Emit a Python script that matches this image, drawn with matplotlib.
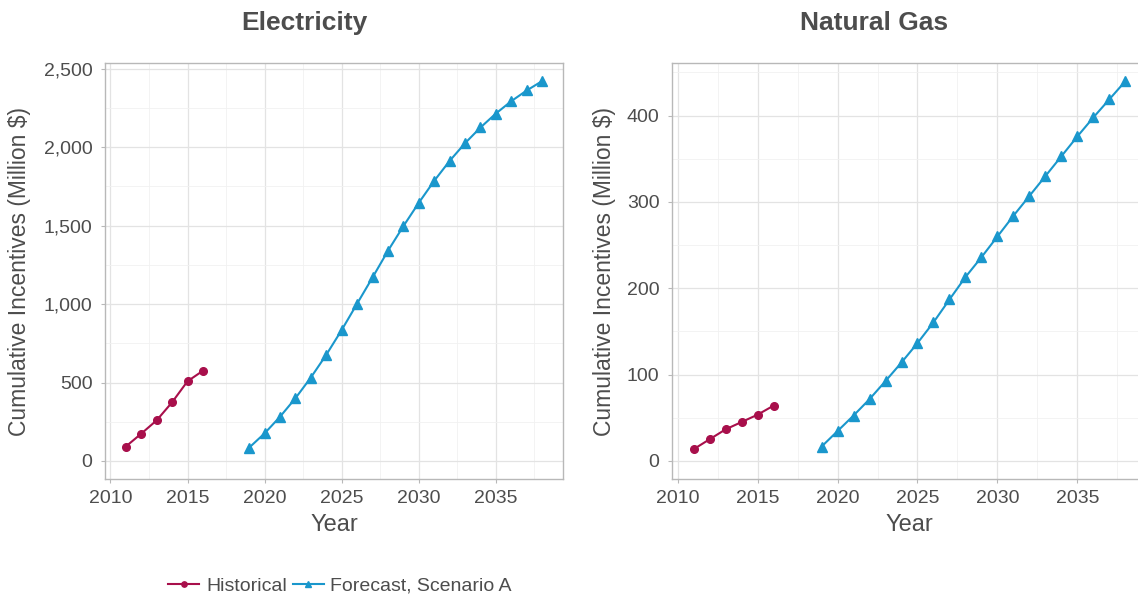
import matplotlib.pyplot as plt
from matplotlib.ticker import FuncFormatter, MultipleLocator

plt.rcParams['font.family'] = ['Liberation Sans', 'DejaVu Sans']

# ---------------------------------------------------------------------------
# Datos
# ---------------------------------------------------------------------------
years_hist = [2011, 2012, 2013, 2014, 2015, 2016]
years_fc = list(range(2019, 2039))

elec_hist = [92, 174, 259, 374, 508, 575]
elec_fc = [85, 176, 282, 400, 532, 677, 835, 1003, 1170, 1340, 1497, 1646,
           1786, 1913, 2026, 2126, 2215, 2294, 2362, 2422]

gas_hist = [13.5, 25, 36.5, 45, 53.5, 64]
gas_fc = [16.5, 34.5, 52.5, 71.5, 92.5, 114, 136.5, 160.5, 187, 213, 236, 260,
          284, 307, 330, 353, 376, 398, 419, 440]

panel_titles = ['Electricity', 'Natural Gas']
series_labels = ['Historical', 'Forecast, Scenario A']

RED = '#a80f4b'
BLUE = '#1a97cc'
GRID = '#e3e3e3'
GRID_MINOR = '#f1f1f1'
TEXT = '#4d4d4d'

fig = plt.figure(figsize=(11.38, 5.97), dpi=100)
W, H = 1138, 597

def px_axes(x0, y0, x1, y1):
    return fig.add_axes([x0 / W, 1 - y1 / H, (x1 - x0) / W, (y1 - y0) / H])

ax1 = px_axes(105, 63, 563, 479)
ax2 = px_axes(672, 63, 1147, 479)

# (eje, historico, pronostico, ylim, paso mayor, paso menor, x etiqueta y en px)
panels = [
    (ax1, elec_hist, elec_fc, (-115, 2537), 500, 250, 20),
    (ax2, gas_hist, gas_fc, (-21, 461), 100, 50, 605),
]

handles = []
for ax, hist, fc, ylim, major, minor, ylab_x in panels:
    h1, = ax.plot(years_hist, hist, color=RED, lw=1.5, marker='o', ms=5.5,
                  label=series_labels[0])
    h2, = ax.plot(years_fc, fc, color=BLUE, lw=1.5, marker='^', ms=6.5,
                  label=series_labels[1])
    handles = [h1, h2]
    ax.set_xlim(2009.65, 2039.35)
    ax.set_ylim(*ylim)
    ax.xaxis.set_major_locator(MultipleLocator(5))
    ax.xaxis.set_minor_locator(MultipleLocator(2.5))
    ax.yaxis.set_major_locator(MultipleLocator(major))
    ax.yaxis.set_minor_locator(MultipleLocator(minor))
    ax.grid(which='major', color=GRID, lw=0.9)
    ax.grid(which='minor', color=GRID_MINOR, lw=0.6)
    ax.set_axisbelow(True)
    for s in ax.spines.values():
        s.set_color('#b8b8b8')
        s.set_linewidth(1.0)
    ax.tick_params(which='major', length=3, color='#b8b8b8', labelsize=14,
                   labelcolor=TEXT)
    ax.tick_params(axis='y', pad=6)
    ax.tick_params(axis='x', pad=5)
    ax.tick_params(which='minor', length=0)

    pos = ax.get_position()
    ax_w = pos.width * W
    ax_h = pos.height * H
    x0 = pos.x0 * W
    ax.set_xlabel('Year', fontsize=17, color=TEXT, va='center')
    ax.xaxis.set_label_coords(0.5, -(525 - 479) / ax_h)
    ax.set_ylabel('Cumulative Incentives (Million $)', fontsize=16.5,
                  color=TEXT, va='center')
    ax.yaxis.set_label_coords((ylab_x - x0) / ax_w, 0.5)

ax1.yaxis.set_major_formatter(FuncFormatter(lambda v, p: f'{v:,.0f}'))

fig.text(304 / W, 1 - 23 / H, panel_titles[0], ha='center', va='center',
         fontsize=19, fontweight='bold', color=TEXT)
fig.text(874 / W, 1 - 23 / H, panel_titles[1], ha='center', va='center',
         fontsize=19, fontweight='bold', color=TEXT)

fig.legend(handles=handles, labels=series_labels, loc='center',
           bbox_to_anchor=(340 / W, 1 - 586 / H), ncol=2, frameon=False,
           fontsize=14, handlelength=1.6, handletextpad=0.35,
           columnspacing=0.3, markerscale=0.7, labelcolor=TEXT)

fig.savefig('out.png', dpi=100)
